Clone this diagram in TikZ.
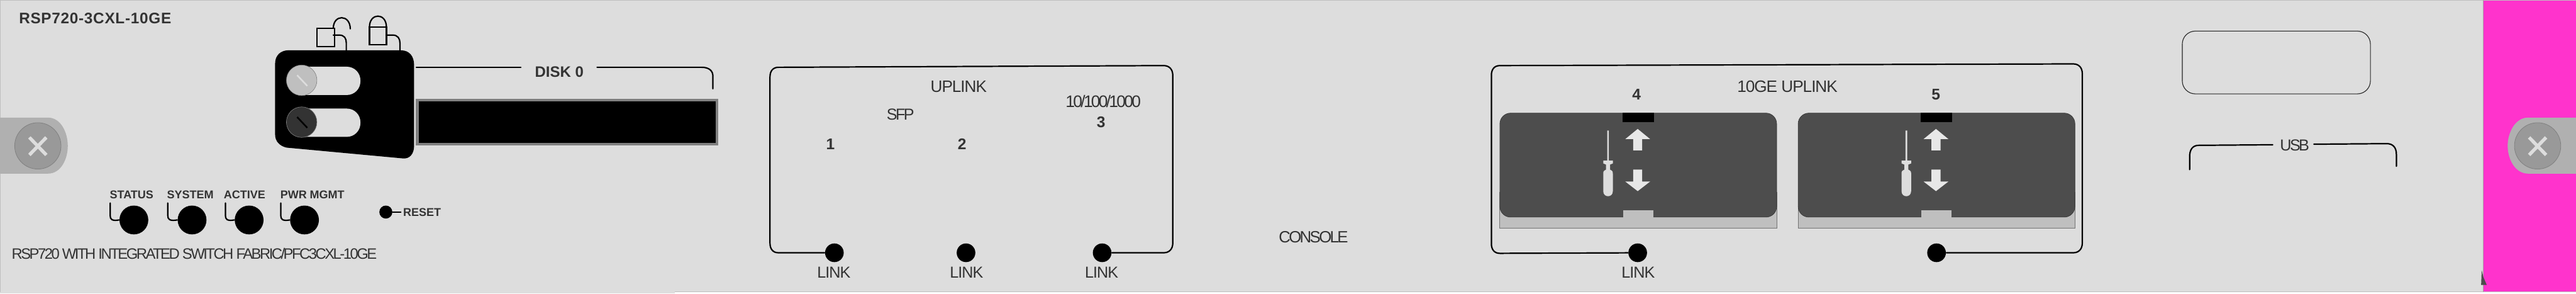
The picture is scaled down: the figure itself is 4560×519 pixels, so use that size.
\documentclass[tikz,border=0pt]{standalone}
\usepackage{fontspec}
\setmainfont{Liberation Sans}
\newfontfamily\widefont[LetterSpace=3]{Liberation Sans}
\newfontfamily\tightfont[LetterSpace=-4]{Liberation Sans}
\newfontfamily\tighterfont[LetterSpace=-10.5]{Liberation Sans}
\usetikzlibrary{positioning}
\definecolor{panel}{HTML}{DDDDDD}
\definecolor{tabgrey}{HTML}{B0B0B0}
\definecolor{screwgrey}{HTML}{999999}
\definecolor{portdark}{HTML}{4D4D4D}
\definecolor{portlip}{HTML}{BFBFBF}
\definecolor{inktext}{HTML}{333333}
\definecolor{hotpink}{HTML}{FF33CC}
\tikzset{line width=.7pt,
  boldlabel/.style={inner sep=0pt,text=inktext,font=\fontsize{5.7pt}{6pt}\bfseries},
  thinlabel/.style={inner sep=0pt,text=inktext,font=\fontsize{8pt}{9pt}\tightfont},
  squeezed/.style={inner sep=0pt,text=inktext,font=\fontsize{8pt}{9pt}\tighterfont},
  titlelabel/.style={inner sep=0pt,text=inktext,font=\fontsize{8.3pt}{9pt}\tightfont},
  numlabel/.style={inner sep=0pt,text=inktext,font=\fontsize{7.8pt}{8pt}\bfseries},
  lead/.style={draw=black,line width=.7pt,line cap=round},
  led/.style={circle,fill=black,inner sep=0pt,minimum size=5.1mm},
  linkled/.style={circle,fill=black,inner sep=0pt,minimum size=3.3mm},
  screw/.style={circle,fill=screwgrey,draw=black!50,line width=.25pt,inner sep=0pt,minimum size=8.2mm},
  portbody/.style={fill=portdark,draw=black!80,line width=.2pt,rounded corners=1.9mm},
  arrowwhite/.style={fill=panel!70!white}}
\newcommand{\sfpport}[1]{%
  \begin{scope}[shift={(#1,0)}]
    \fill[portlip] (2655,340) rectangle (3145,403);
    \draw[black!55,line width=.3pt] (2655,340)--(2655,403)--(3145,403)--(3145,340);
    \path[portbody] (2655,200) rectangle (3145,384);
    \fill[black] (2872,199) rectangle (2928,216);
    \fill[portlip] (2873,372) rectangle (2927,385);
    \fill[arrowwhite] (2899,228)--(2921,246)--(2907,246)--(2907,266)--(2891,266)--(2891,246)--(2877,246)--cycle;
    \fill[arrowwhite] (2899,338)--(2921,321)--(2907,321)--(2907,300)--(2891,300)--(2891,321)--(2877,321)--cycle;
    \fill[panel] (2845,231)--(2848,231)--(2848,284)--(2855,284)--(2855,289)--(2850,291)--(2850,300)
      .. controls (2855,302) and (2855,304) .. (2855,308)--(2855,338)
      .. controls (2855,350) and (2838,350) .. (2838,338)--(2838,308)
      .. controls (2838,304) and (2838,302) .. (2843,300)--(2843,291)--(2838,289)--(2838,284)--(2845,284)--cycle;
  \end{scope}}
\begin{document}
\begin{tikzpicture}[x=.1mm,y=-.1mm]
\useasboundingbox (0,0) rectangle (4560,519);
\fill[white] (0,0) rectangle (4560,519);
\fill[panel] (0,0) rectangle (4396,516);
\fill[panel] (0,516) rectangle (1194,519);
\fill[hotpink] (4396,0) rectangle (4560,516);
\draw[black!25,line width=.35pt] (0,.5)--(4560,.5);
\draw[black!25,line width=.35pt] (.5,0)--(.5,516);
\draw[black!25,line width=.35pt] (1194,516)--(4560,516);
\draw[black!35,line width=.35pt] (4396,0)--(4396,516);
\fill[black!70] (4392,504)--(4402,504)--(4396,490)--(4393,478)--cycle;
% mounting tabs and screws
\fill[tabgrey] (0,208)--(85,208) .. controls (108,208) and (120,235) .. (120,258) .. controls (120,281) and (108,307) .. (85,307)--(0,307)--cycle;
\fill[tabgrey] (4560,208)--(4475,208) .. controls (4452,208) and (4439,235) .. (4439,258) .. controls (4439,281) and (4452,307) .. (4475,307)--(4560,307)--cycle;
\node[screw] (screwleft) at (67,258) {};
\node[screw] (screwright) at (4492,258) {};
\draw[panel,line width=1.7pt] (52,243)--(82,274) (82,243)--(52,274);
\draw[panel,line width=1.7pt] (4477,243)--(4507,274) (4507,243)--(4477,274);
% disk carrier
\fill[black] (487,112) .. controls (487,98) and (497,89) .. (510,89)--(710,89) .. controls (725,89) and (733,100) .. (733,115)
  --(733,258) .. controls (733,272) and (725,282) .. (712,280)--(507,261) .. controls (495,258) and (487,250) .. (487,238)--cycle;
\fill[panel,rounded corners=2.4mm] (510,118) rectangle (638,168);
\fill[panel,rounded corners=2.4mm] (510,192) rectangle (638,242);
\node[circle,fill=portlip,draw=black!50,line width=.2pt,inner sep=0pt,minimum size=5.4mm] (ejectopen) at (534,142) {};
\node[circle,fill=inktext,draw=black!50,line width=.2pt,inner sep=0pt,minimum size=5.4mm] (ejectlock) at (534,216) {};
\draw[panel,line width=.8pt] (526,133)--(544,152);
\draw[black,line width=.8pt] (526,207)--(544,226);
\draw[lead] (561,50) rectangle (592,82);
\draw[lead] (590,50) .. controls (590,25) and (620,25) .. (620,51);
\draw[lead] (590,62)--(600,62) .. controls (610,62) and (613,68) .. (613,76)--(613,89);
\draw[lead] (654,48) rectangle (684,79);
\draw[lead] (654,48) .. controls (654,22) and (684,22) .. (684,48);
\draw[lead] (684,62)--(695,62) .. controls (704,62) and (708,68) .. (708,76)--(708,89);
\fill[black!50] (736,175) rectangle (1271,257);
\fill[black] (741,179) rectangle (1267,253);
\node[boldlabel,font=\fontsize{7.6pt}{8pt}\bfseries] (disklabel) at (990,127) {DISK 0};
\coordinate (diskleft) at (737,119);
\coordinate (diskend) at (1262,157);
\draw[lead] (diskleft)--(922,119);
\draw[lead] (1057,119)--(1242,119) .. controls (1255,119) and (1262,125) .. (1262,135)--(diskend);
% title and leds
\node[boldlabel,font=\fontsize{7.7pt}{8pt}\widefont\bfseries,anchor=west] (modelname) at (33,33) {RSP720-3CXL-10GE};
\node[squeezed,anchor=west,font=\fontsize{7.55pt}{8pt}\tighterfont] (boardname) at (20,449) {RSP720 WITH INTEGRATED SWITCH FABRIC/PFC3CXL-10GE};
\foreach \nm/\ledx/\hookx/\lblx/\txt in {status/237/195/233/STATUS,system/340/297/337/SYSTEM,active/441/399/433/ACTIVE,pwrmgmt/539/497/553/PWR MGMT}{
  \node[led] (\nm) at (\ledx,389) {};
  \node[boldlabel] (\nm label) at (\lblx,344) {\txt};
  \draw[lead] (\hookx,359)--(\hookx,381) .. controls (\hookx,388) and ({\hookx+3},391) .. (\nm.west);
}
\node[circle,fill=black,inner sep=0pt,minimum size=2.3mm] (resetled) at (683,375) {};
\node[boldlabel,anchor=west] (resetlabel) at (713,375) {RESET};
\draw[lead,shorten >=.35mm] (resetled)--(resetlabel.west);
% uplink group
\node[linkled] (link1) at (1477,447) {};
\node[linkled] (link2) at (1710,447) {};
\node[linkled] (link3) at (1951,447) {};
\draw[lead] (link1)--(1378,447) .. controls (1368,447) and (1363,440) .. (1363,430)--(1363,136) .. controls (1363,126) and (1368,119) .. (1378,119)--(2060,116)
  .. controls (2070,116) and (2076,123) .. (2076,133)--(2076,430) .. controls (2076,440) and (2070,447) .. (2060,447)--(link3);
\node[thinlabel] (linklabela) at (1476,482) {LINK};
\node[thinlabel] (linklabelb) at (1711,482) {LINK};
\node[thinlabel] (linklabelc) at (1950,482) {LINK};
\node[titlelabel] (uplinktitle) at (1697,153) {UPLINK};
\node[squeezed] (sfplabel) at (1594,202) {SFP};
\node[squeezed,font=\fontsize{8.4pt}{9pt}\tighterfont] (speedlabel) at (1953,179) {10/100/1000};
\node[numlabel] (portone) at (1470,255) {1};
\node[numlabel] (porttwo) at (1703,255) {2};
\node[numlabel] (portthree) at (1949,216) {3};
\node[squeezed,font=\fontsize{8.2pt}{9pt}\tighterfont] (consolelabel) at (2325,419) {CONSOLE};
% 10ge group
\node[linkled] (link4) at (2899,447) {};
\node[linkled] (link5) at (3428,447) {};
\draw[lead] (link4)--(2655,448) .. controls (2645,448) and (2640,441) .. (2640,431)--(2640,133) .. controls (2640,123) and (2645,116) .. (2655,116)--(3670,113)
  .. controls (3680,113) and (3686,120) .. (3686,130)--(3686,430) .. controls (3686,440) and (3680,447) .. (3670,447)--(link5);
\sfpport{0}
\sfpport{528}
\node[titlelabel] (tengetitle) at (3164,153) {10GE UPLINK};
\node[numlabel] (portfour) at (2897,167) {4};
\node[numlabel] (portfive) at (3427,167) {5};
\node[thinlabel] (linklabeld) at (2900,482) {LINK};
% usb
\draw[black!85,line width=.35pt,rounded corners=2.3mm] (3863,55) rectangle (4196,166);
\node[squeezed] (usblabel) at (4062,257) {USB};
\draw[lead] (4023,256)--(3892,257) .. controls (3881,257) and (3876,265) .. (3876,277)--(3876,300);
\draw[lead] (4096,255)--(4225,254) .. controls (4236,254) and (4242,261) .. (4242,273)--(4242,294);
\end{tikzpicture}
\end{document}
